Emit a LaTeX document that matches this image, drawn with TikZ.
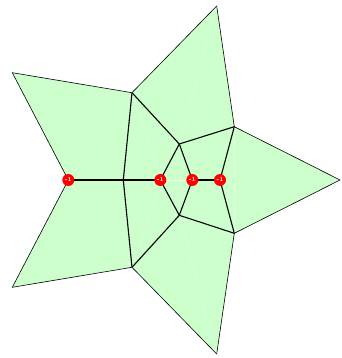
\documentclass[tikz,border=0pt]{standalone}
\usepackage{tikz}
\definecolor{cellGreen}{HTML}{CCFFCC}

\begin{document}
\begin{tikzpicture}[
  x=1pt,y=-1pt,
  outline/.style={draw=black,line width=0.6pt,fill=cellGreen,line join=miter},
  seam/.style={draw=black,line width=1.1pt},
  faint/.style={draw=white,line width=0.4pt,opacity=0.35},
  defect/.style={circle,fill=red,inner sep=0pt,minimum size=12pt,text=white,font=\fontsize{6}{6}\selectfont\bfseries}
]
\useasboundingbox (0,0) rectangle (341,358);
% outer star
\coordinate (tl) at (12.3,72.7);
\coordinate (top) at (216.7,6);
\coordinate (rt) at (340,180);
\coordinate (bot) at (216.7,354);
\coordinate (bl) at (12.3,287.3);
% inner corners
\coordinate (A) at (132,92.7);
\coordinate (B) at (234.3,126.7);
\coordinate (C) at (234.3,233.3);
\coordinate (D) at (132,267.3);
\coordinate (M) at (123.3,180);
\coordinate (F) at (179.3,144);
\coordinate (G) at (179.3,215.3);
\coordinate (E) at (68.3,180);
\coordinate (P1) at (160.3,180);
\coordinate (P2) at (192.3,180);
\coordinate (P3) at (220,180);

\path[outline] (tl) -- (A) -- (top) -- (B) -- (rt) -- (C) -- (bot) -- (D) -- (bl) -- (E) -- cycle;

% faint triangulation
\draw[faint] (E) -- (A);
\draw[faint] (E) -- (D);
\draw[faint] (A) -- (P1);
\draw[faint] (D) -- (P1);
\draw[faint] (top) -- (F);
\draw[faint] (bot) -- (G);
\draw[faint] (B) -- (C);
\draw[faint] (P1) -- (P2);

% cell seams
\draw[seam] (A) -- (M) -- (D);
\draw[seam] (E) -- (M) -- (P1);
\draw[seam] (A) -- (F);
\draw[seam] (D) -- (G);
\draw[seam] (F) -- (P1) -- (G);
\draw[seam] (F) -- (B);
\draw[seam] (G) -- (C);
\draw[seam] (F) -- (P2) -- (G);
\draw[seam] (P2) -- (P3);
\draw[seam] (B) -- (P3) -- (C);

% defects
\node[defect] (d1) at (E) {-1};
\node[defect] (d2) at (P1) {-1};
\node[defect] (d3) at (P2) {-1};
\node[defect] (d4) at (P3) {-1};
\end{tikzpicture}
\end{document}
